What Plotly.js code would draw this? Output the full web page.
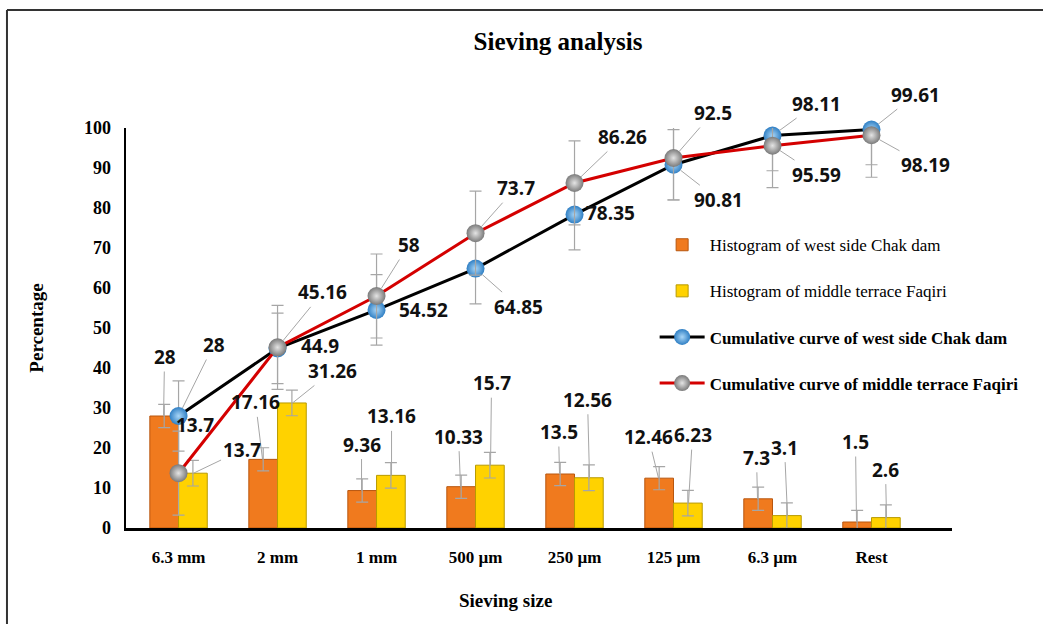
<!DOCTYPE html>
<html>
<head>
<meta charset="utf-8">
<script src="https://cdn.plot.ly/plotly-3.0.1.min.js"></script>
<style>html,body{margin:0;padding:0;background:#fff;}#chart{width:1043px;height:624px;}</style>
</head>
<body>
<div id="chart"></div>
<script>
// ---- data ----
const categories = ['6.3 mm', '2 mm', '1 mm', '500 µm', '250 µm', '125 µm', '6.3 µm', 'Rest'];
const histWest   = [28, 17.16, 9.36, 10.33, 13.5, 12.46, 7.3, 1.5];
const histMiddle = [13.7, 31.26, 13.16, 15.7, 12.56, 6.23, 3.1, 2.6];
const cumWest    = [28, 44.9, 54.52, 64.85, 78.35, 90.81, 98.11, 99.61];
const cumMiddle  = [13.7, 45.16, 58, 73.7, 86.26, 92.5, 95.59, 98.19];
const errHistWest = 2.9;
const errHistMiddle = 3.2;
const errCumWest = 8.8;
const errCumMiddle = 10.5;
const seriesNames = [
  'Histogram of west side Chak dam',
  'Histogram of middle terrace Faqiri',
  'Cumulative curve of west side Chak dam',
  'Cumulative curve of middle terrace Faqiri'
];

// ---- label placement (style, pixel offsets) ----
const offHistWest   = [[1,-59,1],[-7,-57,1],[0,-46,1],[-2,-50,1],[-1,-42,1],[-10,-41,1],[-1,-41,1],[-1,-80,1]];
const offHistMiddle = [[48,-23,1],[40,-32,1],[0,-59,1],[1,-82,1],[-2,-78,1],[4,-68,1],[-3,-68,1],[-1,-48,1]];
const offCumWest    = [[35,-71,1],[42,-2,0],[47,0,0],[43,38,1],[36,-2,0],[45,35,1],[44,-32,1],[44,-35,1]];
const offCumMiddle  = [[16,-48,0],[45,-55,1],[32,-51,1],[40,-45,1],[48,-46,1],[39,-45,1],[44,29,1],[54,30,1]];

const serif = 'Liberation Serif, Times New Roman, serif';
const labelFont = {family: 'Open Sans, sans-serif', size: 19, color: '#111', weight: 'bold'};
const errColor = '#A6A6A6';

const traces = [
  {
    type: 'bar', name: '<span style="font-weight:normal">' + seriesNames[0] + '</span>',
    x: categories, y: histWest, legendgroup: 'a',
    marker: {color: '#F07A1E', line: {color: '#B8560E', width: 1}},
    error_y: {type: 'constant', value: errHistWest, color: errColor, thickness: 1.2, width: 6},
    hoverinfo: 'y'
  },
  {
    type: 'bar', name: '<span style="font-weight:normal">' + seriesNames[1] + '</span>',
    x: categories, y: histMiddle, legendgroup: 'b',
    marker: {color: '#FFD200', line: {color: '#B89A00', width: 1}},
    error_y: {type: 'constant', value: errHistMiddle, color: errColor, thickness: 1.2, width: 6},
    hoverinfo: 'y'
  },
  {
    type: 'scatter', mode: 'lines+markers', name: seriesNames[2],
    x: categories, y: cumWest, legendgroup: 'c',
    line: {color: '#000000', width: 3},
    marker: {size: 18, color: '#2F7FC4', gradient: {type: 'radial', color: '#A9D6F7'}, line: {width: 0}},
    error_y: {type: 'constant', value: errCumWest, color: errColor, thickness: 1.2, width: 6},
    cliponaxis: false
  },
  {
    type: 'scatter', mode: 'lines+markers', name: seriesNames[3],
    x: categories, y: cumMiddle, legendgroup: 'd',
    line: {color: '#D40000', width: 3},
    marker: {size: 18, color: '#7A7A7A', gradient: {type: 'radial', color: '#E4E4E4'}, line: {width: 0}},
    error_y: {type: 'constant', value: errCumMiddle, color: errColor, thickness: 1.2, width: 6},
    cliponaxis: false
  }
];

function makeLabels(values, offs, xshift, standoff) {
  return values.map((v, i) => ({
    x: categories[i], y: v, xref: 'x', yref: 'y',
    text: String(v), font: labelFont,
    showarrow: true, arrowhead: 0, arrowwidth: 1,
    arrowcolor: offs[i][2] ? '#A6A6A6' : 'rgba(0,0,0,0)',
    ax: offs[i][0], ay: offs[i][1], xshift: xshift, standoff: standoff
  }));
}

const annotations = [].concat(
  makeLabels(histWest, offHistWest, -15, 0),
  makeLabels(histMiddle, offHistMiddle, 15, 0),
  makeLabels(cumWest, offCumWest, 0, 9),
  makeLabels(cumMiddle, offCumMiddle, 0, 9),
  [{
    text: 'Sieving size', xref: 'paper', yref: 'paper', x: 0.459, y: -0.18,
    xanchor: 'center', yanchor: 'middle', showarrow: false,
    font: {family: serif, size: 19, color: '#000', weight: 'bold'}
  }]
);

const layout = {
  width: 1043, height: 624,
  margin: {l: 126, r: 91, t: 128, b: 96},
  paper_bgcolor: '#ffffff', plot_bgcolor: '#ffffff',
  title: {
    text: '<b>Sieving analysis</b>', x: 0.523, xref: 'paper', xanchor: 'center',
    y: 1 - 41 / 624, yref: 'container', yanchor: 'middle',
    font: {family: serif, size: 25, color: '#000'}
  },
  barmode: 'group', bargap: 0.42, bargroupgap: 0,
  xaxis: {
    type: 'category', showline: true, linecolor: '#000', linewidth: 3,
    showgrid: false, zeroline: false, ticks: '', ticklabelstandoff: 12,
    tickfont: {family: serif, size: 17, color: '#000', weight: 'bold'},
    fixedrange: true
  },
  yaxis: {
    range: [0, 100], dtick: 10, showline: true, linecolor: '#000', linewidth: 2.5,
    showgrid: false, zeroline: false, ticks: '', ticklabelstandoff: 9,
    tickfont: {family: serif, size: 18, color: '#000', weight: 'bold'},
    title: {text: '<b>Percentage</b>', standoff: 36, font: {family: serif, size: 19, color: '#000'}},
    automargin: false, fixedrange: true
  },
  showlegend: true,
  legend: {
    x: 0.64, y: 0.752, xanchor: 'left', yanchor: 'top',
    bgcolor: 'rgba(0,0,0,0)', tracegroupgap: 21, itemwidth: 45,
    font: {family: serif, size: 17, color: '#000', weight: 'bold'},
    traceorder: 'grouped'
  },
  annotations: annotations,
  shapes: [
    {type: 'line', xref: 'paper', yref: 'paper', x0: -0.1441, x1: 1.12, y0: 1.295, y1: 1.295, line: {color: '#333', width: 2}},
    {type: 'line', xref: 'paper', yref: 'paper', x0: -0.1441, x1: -0.1441, y0: 1.295, y1: -0.25, line: {color: '#333', width: 2}}
  ]
};

Plotly.newPlot('chart', traces, layout, {displayModeBar: false, staticPlot: true});
</script>
</body>
</html>
